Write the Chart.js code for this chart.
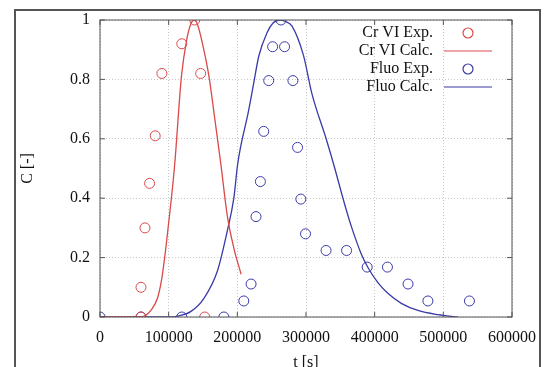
<!DOCTYPE html>
<html>
<head>
<meta charset="utf-8">
<script src="https://cdn.jsdelivr.net/npm/chart.js@4/dist/chart.umd.min.js"></script>
<style>
  html, body { margin: 0; padding: 0; background: #fff; overflow: hidden; }
  #wrap { position: relative; width: 547px; height: 375px; }
  #frame { position: absolute; left: 14px; top: 9px; width: 523px; height: 400px;
           border: 2px solid #555; pointer-events: none; }
</style>
</head>
<body>
<div id="wrap">
  <canvas id="chart" width="547" height="375"></canvas>
  <div id="frame"></div>
</div>
<script>
// valores (t en s, C adimensional)
const crExpT = [59700, 59700, 65500, 72200, 80400, 90100, 119100, 138000, 146600, 152500];
const crExpC = [0.00, 0.10, 0.30, 0.45, 0.61, 0.82, 0.92, 1.00, 0.82, 0.00];

const crCalcT = [0, 55000, 64500, 75000, 83800, 90000, 95900, 104000, 109000, 118600, 126300, 132000, 137000, 142000, 149000, 158700, 167000, 176000, 185200, 194900, 205500];
const crCalcC = [0, 0, 0.003, 0.025, 0.064, 0.13, 0.233, 0.40, 0.52, 0.81, 0.934, 0.985, 1.0, 0.985, 0.923, 0.81, 0.67, 0.515, 0.344, 0.232, 0.144];

const fluoExpT = [0, 59700, 119100, 180400, 209400, 220000, 227200, 233600, 238400, 245700, 251400, 263500, 268800, 280900, 287700, 292500, 299300, 329200, 359100, 389100, 418600, 448600, 477500, 538000];
const fluoExpC = [0, 0, 0, 0, 0.054, 0.111, 0.338, 0.456, 0.625, 0.796, 0.91, 1.0, 0.91, 0.796, 0.571, 0.397, 0.28, 0.224, 0.224, 0.168, 0.168, 0.111, 0.054, 0.054];

const fluoCalcT = [0, 100000, 115000, 132000, 151400, 170700, 185200, 194900, 200500, 216700, 223900, 231200, 243200, 252000, 262000, 270000, 279400, 296400, 308400, 330000, 342000, 352000, 360000, 366000, 380000, 390600, 405000, 420000, 438800, 463000, 492000, 521000];
const fluoCalcC = [0, 0, 0.004, 0.018, 0.063, 0.153, 0.288, 0.40, 0.515, 0.698, 0.788, 0.878, 0.957, 0.99, 1.0, 0.995, 0.98, 0.88, 0.754, 0.595, 0.50, 0.415, 0.35, 0.305, 0.215, 0.165, 0.115, 0.078, 0.046, 0.022, 0.008, 0];

const xTicks = [0, 100000, 200000, 300000, 400000, 500000, 600000];
const yTicks = [0, 0.2, 0.4, 0.6, 0.8, 1];

const pts = (ts, cs) => ts.map((t, i) => ({x: t, y: cs[i]}));

const rojo = '#d94a4a';
const azul = '#3a3aa8';
const fuente = 'Liberation Serif, serif';

// marco del área de trazado con marcas hacia dentro (estilo gnuplot)
const marco = {
  id: 'marco',
  afterDatasetsDraw(chart) {
    const {ctx, chartArea: a, scales} = chart;
    ctx.save();
    ctx.strokeStyle = '#555';
    ctx.lineWidth = 1;
    ctx.strokeRect(a.left, a.top, a.right - a.left, a.bottom - a.top);
    ctx.beginPath();
    xTicks.forEach(v => {
      const x = scales.x.getPixelForValue(v);
      ctx.moveTo(x, a.bottom); ctx.lineTo(x, a.bottom - 5);
      ctx.moveTo(x, a.top); ctx.lineTo(x, a.top + 5);
    });
    yTicks.forEach(v => {
      const y = scales.y.getPixelForValue(v);
      ctx.moveTo(a.left, y); ctx.lineTo(a.left + 5, y);
      ctx.moveTo(a.right, y); ctx.lineTo(a.right - 5, y);
    });
    ctx.stroke();
    ctx.restore();
  }
};

// leyenda: texto a la izquierda, muestra a la derecha
const leyenda = {
  id: 'leyenda',
  afterDraw(chart) {
    const {ctx} = chart;
    ctx.save();
    ctx.font = '16px ' + fuente;
    ctx.textAlign = 'right';
    ctx.textBaseline = 'middle';
    chart.data.datasets.forEach((ds, i) => {
      const y = 33 + i * 18;
      ctx.fillStyle = '#111';
      ctx.fillText(ds.label, 433, y);
      ctx.strokeStyle = ds.borderColor;
      ctx.lineWidth = 1.2;
      ctx.beginPath();
      if (ds.showLine) {
        ctx.moveTo(444, y); ctx.lineTo(492, y);
      } else {
        ctx.arc(468, y, 5, 0, Math.PI * 2);
      }
      ctx.stroke();
    });
    ctx.restore();
  }
};

const ctx = document.getElementById('chart').getContext('2d');
const chart = new Chart(ctx, {
  type: 'scatter',
  data: {
    datasets: [
      {
        label: 'Cr VI Exp.',
        data: pts(crExpT, crExpC),
        borderColor: rojo,
        backgroundColor: 'rgba(0,0,0,0)',
        pointRadius: 5,
        borderWidth: 1,
        showLine: false
      },
      {
        label: 'Cr VI Calc.',
        data: pts(crCalcT, crCalcC),
        borderColor: rojo,
        pointRadius: 0,
        borderWidth: 1.3,
        showLine: true,
        cubicInterpolationMode: 'monotone'
      },
      {
        label: 'Fluo Exp.',
        data: pts(fluoExpT, fluoExpC),
        borderColor: azul,
        backgroundColor: 'rgba(0,0,0,0)',
        pointRadius: 5,
        borderWidth: 1,
        showLine: false
      },
      {
        label: 'Fluo Calc.',
        data: pts(fluoCalcT, fluoCalcC),
        borderColor: azul,
        pointRadius: 0,
        borderWidth: 1.3,
        showLine: true,
        cubicInterpolationMode: 'monotone'
      }
    ]
  },
  options: {
    responsive: false,
    animation: false,
    layout: { padding: { left: 0, top: 20, right: 34, bottom: 0 } },
    plugins: {
      legend: { display: false },
      tooltip: { enabled: false }
    },
    scales: {
      x: {
        type: 'linear',
        min: 0,
        max: 600000,
        afterBuildTicks: s => { s.ticks = xTicks.map(v => ({value: v})); },
        afterFit: s => { s.height = 58; },
        grid: { color: '#c8c8c8', drawTicks: false },
        border: { display: false, dash: [1, 2] },
        ticks: {
          padding: 11,
          color: '#111',
          font: { family: fuente, size: 16 },
          maxRotation: 0,
          callback: v => String(v)
        },
        title: {
          display: true,
          text: 't [s]',
          color: '#111',
          font: { family: fuente, size: 16 },
          padding: { top: 0, bottom: 3 }
        }
      },
      y: {
        min: 0,
        max: 1,
        afterBuildTicks: s => { s.ticks = yTicks.map(v => ({value: v})); },
        afterFit: s => { s.width = 100; },
        grid: { color: '#c8c8c8', drawTicks: false },
        border: { display: false, dash: [1, 2] },
        ticks: {
          padding: 10,
          color: '#111',
          font: { family: fuente, size: 16 },
          callback: v => String(v)
        },
        title: {
          display: true,
          text: 'C [-]',
          color: '#111',
          font: { family: fuente, size: 16 },
          padding: { top: 18, bottom: 0 }
        }
      }
    }
  },
  plugins: [marco, leyenda]
});
</script>
</body>
</html>
